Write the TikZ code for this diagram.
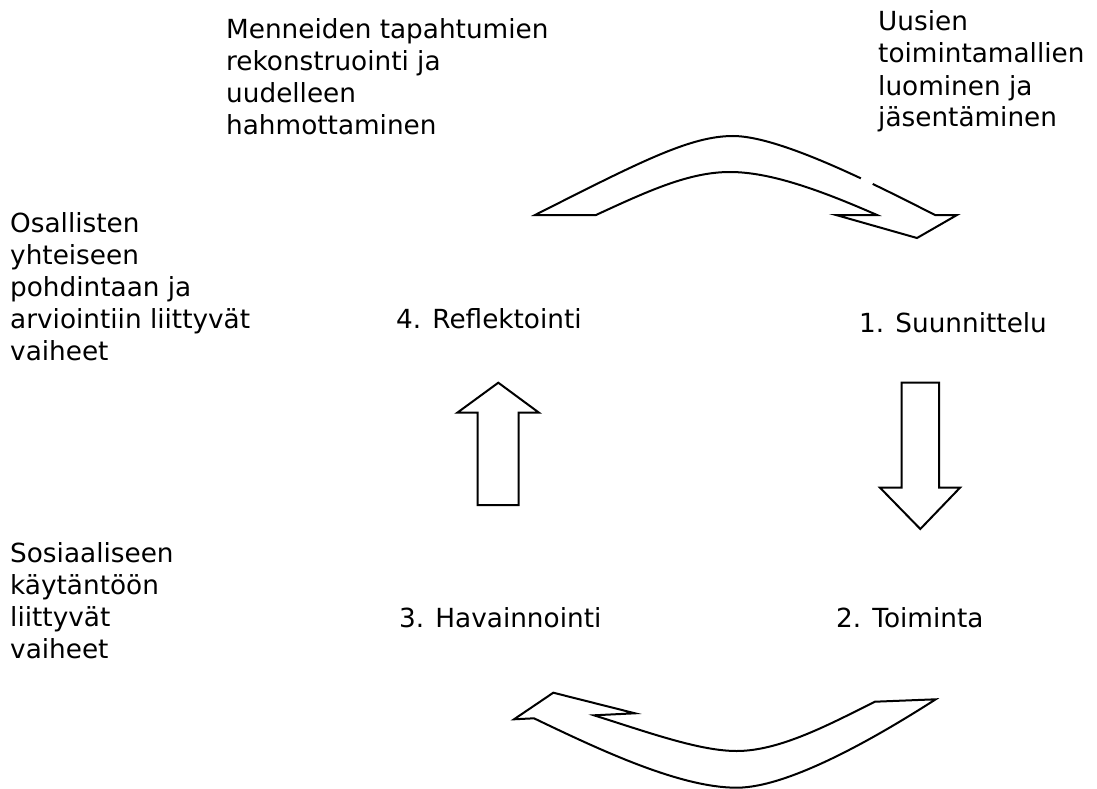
\documentclass[tikz,border=0pt]{standalone}
\usepackage{fontspec}
\setmainfont{DejaVu Sans}

\begin{document}
\begin{tikzpicture}[x=1pt, y=-1pt,
    txt/.style={anchor=base west, align=left, inner sep=0pt, font=\fontsize{26.3}{32}\selectfont},
    blk/.style={draw, line width=2pt, line join=miter}]
\useasboundingbox (0,0) rectangle (1097,789);

% texts (placed at the baseline of their last line)
\node[txt] (Menn) at (226,135) {Menneiden tapahtumien\\rekonstruointi ja\\uudelleen\\hahmottaminen};
\node[txt] (Uusi) at (878,127) {Uusien\\toimintamallien\\luominen ja\\jäsentäminen};
\node[txt] (Osal) at (10,360) {Osallisten\\yhteiseen\\pohdintaan ja\\arviointiin liittyvät\\vaiheet};
\node[txt] (Sosi) at (10,658) {Sosiaaliseen\\käytäntöön\\liittyvät\\vaiheet};

\node[txt] (Refl) at (396,328) {4. Reflektointi};
\node[txt] (Suun) at (859,332) {1. Suunnittelu};
\node[txt] (Hava) at (399,627) {3. Havainnointi};
\node[txt] (Toim) at (836,627) {2. Toiminta};

% curved arrow on top
\draw[blk] (535,215) .. controls (640,162) and (690,136) .. (733,136)
    .. controls (780,136) and (875,184.5) .. (935,215)
    -- (957,215) -- (917,238) -- (836,215) -- (877,215)
    .. controls (820,190) and (770,172) .. (730,172)
    .. controls (690,172) and (650,190) .. (596,215) -- cycle;
\draw[white, line width=6pt] (861,178.3) -- (872.5,184);

% straight arrows
\draw[blk] (901.7,382.7) -- (939,382.7) -- (939,487.7) -- (960,487.7)
    -- (920.3,529) -- (880,487.7) -- (901.7,487.7) -- cycle;
\draw[blk] (498.3,382.7) -- (539,412.7) -- (518.7,412.7) -- (518.7,505)
    -- (477.7,505) -- (477.7,412.7) -- (457.3,412.7) -- cycle;

% curved arrow at the bottom
\draw[blk] (514,719.3) -- (553.3,692.7) -- (635,713.3) -- (594,715.3)
    .. controls (650,733) and (700,751) .. (736.7,751)
    .. controls (780,751) and (830,724) .. (875,701.7)
    -- (935.7,699.3)
    .. controls (880,735) and (790,787.7) .. (736.7,787.7)
    .. controls (680,787.7) and (600,750) .. (534,718.3) -- cycle;
\end{tikzpicture}
\end{document}
